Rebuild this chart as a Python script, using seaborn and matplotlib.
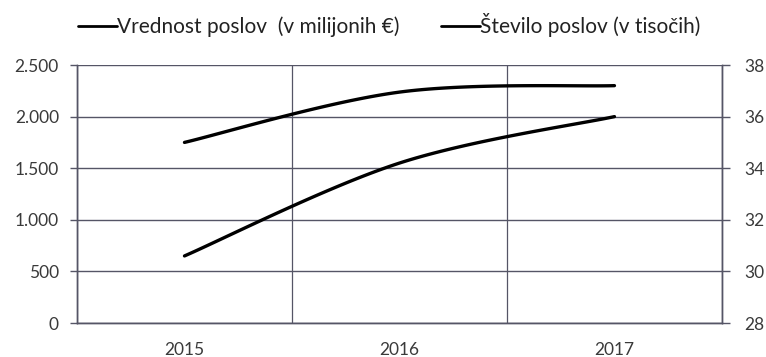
import matplotlib.pyplot as plt
import numpy as np
import seaborn as sns

years = ["2015", "2016", "2017"]
vrednost = [650, 1550, 2000]      # v milijonih €
stevilo = [35.0, 36.95, 37.2]     # v tisočih

left_ticks = [0, 500, 1000, 1500, 2000, 2500]
left_labels = ["0", "500", "1.000", "1.500", "2.000", "2.500"]
right_ticks = [28, 30, 32, 34, 36, 38]


def smooth(xs, ys, n=40):
    # Excel-like smoothed line: cubic Bezier with Catmull-Rom tangents
    p = np.column_stack([xs, ys]).astype(float)
    out = [p[0]]
    for i in range(len(p) - 1):
        p0 = p[i - 1] if i > 0 else p[i]
        p3 = p[i + 2] if i + 2 < len(p) else p[i + 1]
        c1 = p[i] + (p[i + 1] - p0) / 6
        c2 = p[i + 1] - (p3 - p[i]) / 6
        t = np.linspace(0, 1, n)[1:, None]
        seg = ((1 - t) ** 3 * p[i] + 3 * (1 - t) ** 2 * t * c1
               + 3 * (1 - t) * t ** 2 * c2 + t ** 3 * p[i + 1])
        out.extend(seg)
    out = np.array(out)
    return out[:, 0], out[:, 1]


sns.set_style("white")
plt.rcParams["font.family"] = ["Lato", "DejaVu Sans"]

fig = plt.figure(figsize=(7.66, 3.57), dpi=100)
ax = fig.add_axes([0.1005, 0.0952, 0.842, 0.7227])
ax2 = ax.twinx()

x = np.arange(len(years))
sx, sy = smooth(x, vrednost)
sns.lineplot(x=sx, y=sy, ax=ax, color="black", lw=2.4, sort=False,
             label="Vrednost poslov  (v milijonih €)", legend=False)
sx2, sy2 = smooth(x, stevilo)
sns.lineplot(x=sx2, y=sy2, ax=ax2, color="black", lw=2.4, sort=False,
             label="Število poslov (v tisočih)", legend=False)

grid_c = "#555566"
lab_c = "#3a3a3a"
ax.set_xlim(-0.5, 2.5)
ax.set_ylim(0, 2500)
ax.set_yticks(left_ticks)
ax.set_yticklabels(left_labels)
ax.set_xticks(x)
ax.set_xticklabels(years)
ax.set_xticks([-0.5, 0.5, 1.5, 2.5], minor=True)
ax.tick_params(axis="x", which="major", length=0, pad=14, labelsize=12.5,
               labelcolor=lab_c)
ax.tick_params(axis="x", which="minor", length=5, color=grid_c, width=1)
ax.tick_params(axis="y", length=5, color=grid_c, width=1, labelsize=12.5,
               labelcolor=lab_c, pad=8, direction="out")
ax.grid(True, axis="y", color=grid_c, lw=1)
ax.grid(True, axis="x", which="minor", color=grid_c, lw=0.9)
ax.set_axisbelow(True)

ax2.set_ylim(28, 38)
ax2.set_yticks(right_ticks)
ax2.tick_params(axis="y", length=6, color=grid_c, width=1, labelsize=12.5,
                labelcolor=lab_c, pad=10)

for a in (ax, ax2):
    a.spines["top"].set_visible(False)
    for s in ("left", "right", "bottom"):
        a.spines[s].set_color(grid_c)
        a.spines[s].set_linewidth(1)

h1, l1 = ax.get_legend_handles_labels()
h2, l2 = ax2.get_legend_handles_labels()
leg = fig.legend(h1 + h2, l1 + l2, loc="center left",
                 bbox_to_anchor=(0.078, 0.93), ncol=2, frameon=False,
                 fontsize=15, handlelength=1.85, handletextpad=0.0,
                 columnspacing=2.0, labelcolor="#222222")
for line in leg.get_lines():
    line.set_linewidth(2)

fig.savefig("out.png", dpi=100, facecolor="white")
plt.close(fig)
